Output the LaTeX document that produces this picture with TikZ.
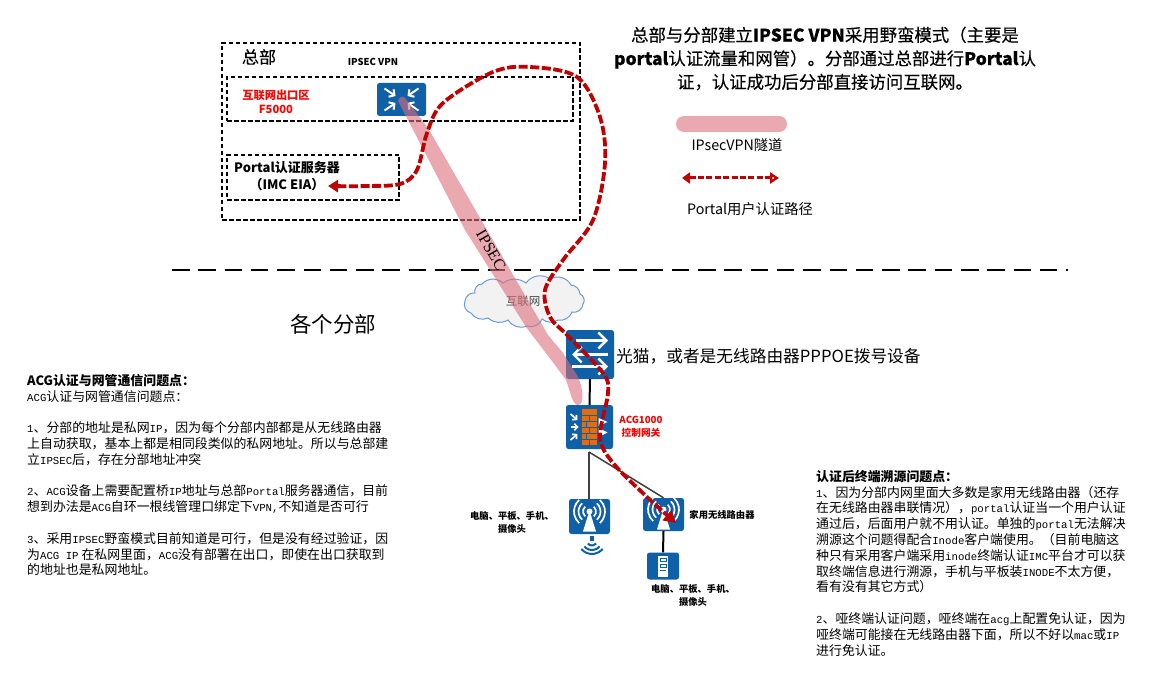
\documentclass[tikz,border=0pt]{standalone}
\usepackage{fontspec}
\usetikzlibrary{arrows.meta}
\setmainfont{Noto Sans CJK SC}
\newfontfamily\latmono[Scale=0.83]{Liberation Mono}
\newfontfamily\serifl{Liberation Serif}
\newfontfamily\semicjk[FakeBold=0.25]{Noto Sans CJK SC}
\newcommand{\mm}[1]{{\latmono #1}}
\newcommand{\bb}[1]{{\bfseries #1}}
\newcommand{\fs}[2]{\fontsize{#1}{#2}\selectfont}
\definecolor{devblue}{HTML}{1060A8}
\definecolor{pathred}{HTML}{C00000}
\definecolor{brick}{HTML}{E46C0A}
\definecolor{tunnelc}{HTML}{DC6E7D}
\definecolor{cloudline}{HTML}{6C9BD2}
\tikzset{
  device/.style={fill=devblue,rounded corners=2.5pt,inner sep=0pt,draw=none},
  hqbox/.style={draw=black,line width=1.5pt,dash pattern=on 4.5pt off 2.5pt},
  txt/.style={inner sep=0pt,align=center},
  para/.style={inner sep=0pt,align=left,anchor=north west,font=\fs{12.9}{15.8}},
  devlab/.style={txt,font=\fs{9.3}{13}\bfseries},
  portalpath/.style={draw=pathred,line width=3.8pt,dash pattern=on 9pt off 2.6pt},
  whitearrow/.style={draw=white,line width=2pt,-{Straight Barb[length=4pt,width=9pt]}},
  fwarrow/.style={draw=white,line width=1.7pt,-{Straight Barb[length=3pt,width=6.5pt]}},
  swarrow/.style={draw=white,line width=2.4pt,-{Straight Barb[length=8pt,width=16pt]}},
  link/.style={line width=2pt,draw=black},
  sublink/.style={line width=1.5pt,draw=black!75},
}
\newcommand{\apglyph}{%
  \fill[white] (0,-5) circle (3pt);
  \fill[white] (0,-6) -- (6.5,15) -- (-6.5,15) -- cycle;
  \foreach \r in {6.5,11,15.5}{
    \draw[white,line width=1.7pt] ([shift={(0,-5)}]-48:\r pt) arc[start angle=-48,end angle=48,radius=\r pt];
    \draw[white,line width=1.7pt] ([shift={(0,-5)}]132:\r pt) arc[start angle=132,end angle=228,radius=\r pt];
  }%
}
\begin{document}
\begin{tikzpicture}[x=1pt,y=-1pt]
\useasboundingbox (0,0) rectangle (1157,679);
\fill[white] (0,0) rectangle (1157,679);

% regions
\node[hqbox,minimum width=358pt,minimum height=177pt,inner sep=0pt] (hq) at (401,131.5) {};
\node[hqbox,minimum width=346pt,minimum height=44pt,inner sep=0pt] (exit) at (400,99) {};
\node[hqbox,minimum width=172pt,minimum height=45pt,inner sep=0pt] (portalbox) at (313,177.5) {};
\node[txt,font=\fs{17}{20}\semicjk] (hqlabel) at (259,57) {总部};
\node[txt,font=\fs{9.5}{12}\bfseries] (ipsecvpn) at (373,62) {IPSEC VPN};
\node[txt,text=red,font=\fs{11.2}{14}\bfseries] (exitlabel) at (276,102) {互联网出口区\\F5000};
\node[txt,font=\fs{13}{17}\bfseries] (portallabel) at (287,168) {Portal认证服务器};
\node[txt,font=\fs{13}{17}\bfseries] (portallabelb) at (287,185) {（IMC EIA）};

% divider
\coordinate (divL) at (172,270);
\coordinate (divR) at (1068,270);
\draw[line width=2pt,dash pattern=on 17.5pt off 8.8pt] (divL) -- (divR);

% cloud
\draw[draw=cloudline,fill=black!5,line width=1pt]
  (465,301) to[bend left=45] (475,293) to[bend left=55] (482,284) to[bend left=45] (503,283)
  to[bend left=35] (526,283) to[bend left=45] (550,279) to[bend left=45] (571,285)
  to[bend left=40] (580,294) to[bend left=55] (583,304) to[bend left=50] (572,312)
  to[bend left=40] (558,320) to[bend left=35] (542,319) to[bend left=45] (527,326)
  to[bend left=40] (508,320) to[bend left=35] (488,318) to[bend left=40] (471,313)
  to[bend left=50] (465,301) -- cycle;
\node[txt,text=black!72,font=\fs{11.5}{14}] (cloudlabel) at (523,301) {互联网};

% devices
\node[device,minimum width=49pt,minimum height=33pt] (vpn) at (401.5,99.5) {};
\node[device,minimum width=48pt,minimum height=49pt] (sw) at (590,354.5) {};
\node[device,minimum width=47pt,minimum height=44pt] (fw) at (589.5,427) {};
\node[device,minimum width=41pt,minimum height=35pt] (ap1) at (589.5,516.5) {};
\node[device,minimum width=41pt,minimum height=33pt] (ap2) at (663.5,514.5) {};
\node[device,minimum width=32pt,minimum height=27pt] (pc) at (663,566) {};
\coordinate (fork) at (589,452);

% links
\draw[link] (sw.south) -- (fw.north);
\draw[link] (ap2.south) -- (pc.north);
\draw[sublink] (ap1.north -| fork) -- (fork);
\draw[sublink] (fork) -- (ap2.north);

% VPN glyph
\begin{scope}[shift={(vpn.center)}]
  \foreach \a/\b in {-1/-1,1/-1,-1/1,1/1}{
    \draw[whitearrow] (\a*17,\b*11) -- (\a*6,\b*3.5);
  }
\end{scope}

% switch glyph
\begin{scope}[shift={(sw.center)}]
  \draw[swarrow] (-14,-14) -- (18,-14);
  \draw[swarrow] (18,0) -- (-18,0);
  \draw[swarrow] (-18,12) -- (18,12);
\end{scope}

% firewall glyph
\begin{scope}[shift={(fw.center)}]
  \fill[brick] (-7.5,-18) rectangle (7.5,18);
  \foreach \y in {-12,-6,0,6,12}{ \draw[devblue,line width=.6pt] (-7.5,\y) -- (7.5,\y); }
  \draw[devblue,line width=.6pt] (0,-12) -- (0,-6) (-3,-6) -- (-3,0) (0,0) -- (0,6) (-3,6) -- (-3,12) (0,12) -- (0,18);
  \draw[fwarrow] (-19,-13) -- (-12,-7);
  \draw[fwarrow] (-19,0) -- (-11,0);
  \draw[fwarrow] (-19,13) -- (-12,7);
  \fill[white] (9,-9) -- (18,-5) -- (9,-1) -- cycle;
  \fill[white] (9,1) -- (18,5.5) -- (9,10) -- cycle;
\end{scope}

% AP glyphs
\begin{scope}[shift={(ap1.center)}]\apglyph\end{scope}
\begin{scope}[shift={(ap2.center)}]\apglyph\end{scope}

% wifi symbol under AP1
\begin{scope}[shift={(592,540)}]
  \fill[devblue] (-2,-4) rectangle (2,1);
  \foreach \r in {5.5,10,14}{
    \draw[devblue,line width=2pt] (220:\r pt) arc[start angle=220,end angle=320,radius=\r pt];
  }
\end{scope}

% server glyph
\begin{scope}[shift={(pc.center)}]
  \fill[white] (-4.7,-10.5) rectangle (5.3,10.5);
  \draw[devblue,line width=.9pt] (-3,-8) rectangle (3,-5) (-3,-2) rectangle (3,1) (-3,4) -- (3,4);
\end{scope}

% tunnel and path
\fill[tunnelc,opacity=.6]
  (398,101) .. controls (399,96) and (404,96) .. (405,98)
  -- (428,128) -- (487,230) -- (548,335) -- (563,353) -- (578,377)
  .. controls (583,388) and (585,405) .. (578,405)
  .. controls (572,405) and (570,390) .. (566,380)
  -- (555,365) -- (526,327) -- (465,230) -- (408,120) -- cycle;
\node[txt,rotate=-60,font=\fs{16}{18}\serifl] (ipseclabel) at (491,250) {IPSEC};
\coordinate (pathA) at (328,186);
\coordinate (pathB) at (676,523);
\draw[portalpath,{Triangle[length=10pt,width=12pt]}-{Triangle[length=12pt,width=13pt]}] plot[smooth,tension=.55] coordinates {
  (pathA) (365,186) (400,184) (417,170) (427,133) (443,103) (493,72) (530,67) (577,77) (600,117) (605,163) (593,220)
  (563,260) (545,290) (550,317) (567,335) (603,373) (608,393) (600,437) (613,463) (647,497) (pathB)};

% device labels
\node[txt,text=red,font=\fs{9.7}{12.5}\bfseries] (acg) at (641,427) {ACG1000\\控制网关};
\node[devlab] (home) at (722,515) {家用无线路由器};
\node[devlab] (ter1) at (512,522.5) {电脑、平板、手机、\\摄像头};
\node[devlab] (ter2) at (693,595.5) {电脑、平板、手机、\\摄像头};
\node[txt,anchor=west,font=\fs{16.7}{20}] (modem) at (616,356) {光猫，或者是无线路由器PPPOE拨号设备};
\node[txt,font=\fs{21.5}{25}] (branches) at (333,324) {各个分部};

% title
\node[txt,font=\fs{17.4}{23.5}\semicjk] (title) at (825,58.5) {总部与分部建立\bb{IPSEC VPN}采用野蛮模式（主要是\\\bb{portal}认证流量和网管）。分部通过总部进行\bb{Portal}认\\证，认证成功后分部直接访问互联网。};

% legend
\coordinate (legA) at (684,124);
\coordinate (legB) at (779,124);
\draw[line width=16pt,line cap=round,draw=tunnelc,opacity=.6] (legA) -- (legB);
\node[txt,font=\fs{14.3}{17}] (legtxt) at (737,145) {IPsecVPN隧道};
\coordinate (legC) at (682,178);
\coordinate (legD) at (779,178);
\draw[draw=pathred,line width=3pt,dash pattern=on 6pt off 2.4pt,{Triangle[length=8pt,width=11pt]}-{Triangle[length=9pt,width=11pt,open,fill=white]}] (legC) -- (legD);
\node[txt,font=\fs{14.3}{17}] (legtxtb) at (750,209) {Portal用户认证路径};

% paragraphs
\node[para] (left) at (27,374) {{\bfseries ACG认证与网管通信问题点：}\\
\mm{ACG}认证与网管通信问题点：\\[15.8pt]
\mm{1}、分部的地址是私网\mm{IP}，因为每个分部内部都是从无线路由器\\
上自动获取，基本上都是相同段类似的私网地址。所以与总部建\\
立\mm{IPSEC}后，存在分部地址冲突\\[15.8pt]
\mm{2}、\mm{ACG}设备上需要配置桥\mm{IP}地址与总部\mm{Portal}服务器通信，目前\\
想到办法是\mm{ACG}自环一根线管理口绑定下\mm{VPN,}不知道是否可行\\[15.8pt]
\mm{3}、采用\mm{IPSEC}野蛮模式目前知道是可行，但是没有经过验证，因\\
为\mm{ACG IP} 在私网里面，\mm{ACG}没有部署在出口，即使在出口获取到\\
的地址也是私网地址。};
\node[para] (right) at (816,470) {{\bfseries 认证后终端溯源问题点：}\\
\mm{1}、因为分部内网里面大多数是家用无线路由器（还存\\
在无线路由器串联情况），\mm{portal}认证当一个用户认证\\
通过后，后面用户就不用认证。单独的\mm{portal}无法解决\\
溯源这个问题得配合\mm{Inode}客户端使用。（目前电脑这\\
种只有采用客户端采用\mm{inode}终端认证\mm{IMC}平台才可以获\\
取终端信息进行溯源，手机与平板装\mm{INODE}不太方便，\\
看有没有其它方式）\\[15.8pt]
\mm{2}、哑终端认证问题，哑终端在\mm{acg}上配置免认证，因为\\
哑终端可能接在无线路由器下面，所以不好以\mm{mac}或\mm{IP}\\
进行免认证。};
\end{tikzpicture}
\end{document}
